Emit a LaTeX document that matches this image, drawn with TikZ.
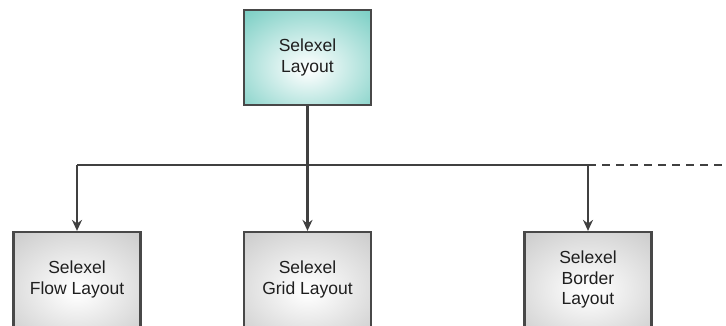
\documentclass[tikz,border=0pt]{standalone}
\usepackage{fontspec}
\setmainfont{Liberation Sans}
\usetikzlibrary{arrows.meta,calc,positioning,shadings}

\definecolor{boxline}{RGB}{72,72,72}
\definecolor{tealedge}{RGB}{100,198,186}
\definecolor{grayedge}{RGB}{192,192,192}
\pgfdeclareradialshading{tealglow}{\pgfpoint{0bp}{-6bp}}{%
	color(0bp)=(white);color(5bp)=(white!90!tealedge);color(44bp)=(tealedge);color(100bp)=(tealedge)}
\pgfdeclareradialshading{grayglow}{\pgfpoint{0bp}{-6bp}}{%
	color(0bp)=(white);color(5bp)=(white!92!grayedge);color(46bp)=(grayedge);color(100bp)=(grayedge)}

\begin{document}
\begin{tikzpicture}[x=1pt,y=1pt,>={Stealth[length=11pt,width=10pt]},
		layout/.style={draw=boxline,line width=2.2pt,minimum width=127pt,minimum height=95pt,
			align=center,font=\fontsize{17.5}{20.5}\selectfont,text=black!88},
		root/.style={layout,shading=tealglow},
		child/.style={layout,shading=grayglow},
		link/.style={draw=black!75,line width=2.2pt}]
			\useasboundingbox (0,0) rectangle (726,326);
			\node[root] (s_0) at (307.5,268.5) {Selexel\\Layout};
			\node[child] (s_1) at (77,46.5) {Selexel\\Flow Layout};
			\node[child] (s_2) at (307.5,46.5) {Selexel\\Grid Layout};
			\node[child] (s_3) at (588,46.5) {Selexel\\Border\\Layout};
			\coordinate (b_0) at (s_0 |- 0,161);
			\coordinate (b_1) at (s_1 |- 0,161);
			\coordinate (b_3) at (s_3 |- 0,161);
			\coordinate (b_e) at (726,161);
			\draw[link] (s_0) -- (b_0);
			\draw[link] (b_1) -- (b_3);
			\draw[link,->] (b_1) -- (s_1);
			\draw[link,->] (b_0) -- (s_2);
			\draw[link,->] (b_3) -- (s_3);
			\draw[link,line width=1.8pt,dash pattern=on 8pt off 6pt] (b_3) -- (b_e);
		\end{tikzpicture}
\end{document}
